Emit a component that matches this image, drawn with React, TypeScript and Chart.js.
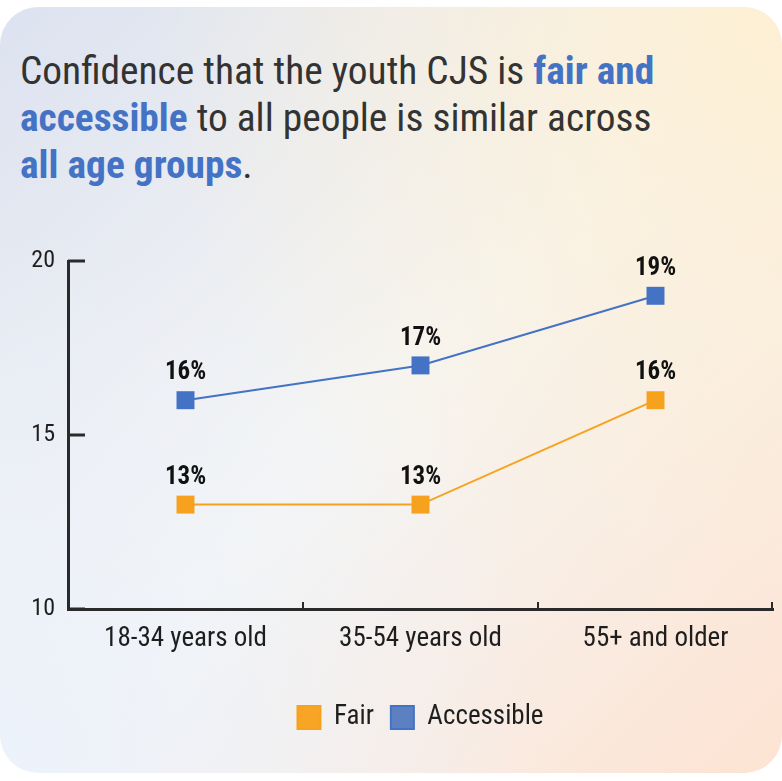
import React, { useEffect, useRef } from "react";
import { Chart, registerables } from "chart.js";
Chart.register(...registerables);

const categories = ["18-34 years old", "35-54 years old", "55+ and older"];
const fairValues = [13, 13, 16];
const accessibleValues = [16, 17, 19];
const seriesNames = ["Fair", "Accessible"];
const yMin = 10;
const yMax = 20;
const yStep = 5;

const FONT = "'Roboto Condensed', 'Liberation Sans Narrow', sans-serif";
const BLUE = "#4472C4";
const ORANGE = "#F7A21E";
const INK = "#1e1e1e";

const pctLabels = {
  id: "pctLabels",
  afterDatasetsDraw(chart: any) {
    const ctx = chart.ctx;
    ctx.save();
    ctx.font = `bold 25px ${FONT}`;
    ctx.fillStyle = "#111";
    ctx.textAlign = "center";
    ctx.textBaseline = "middle";
    chart.data.datasets.forEach((ds: any, i: number) => {
      const meta = chart.getDatasetMeta(i);
      meta.data.forEach((pt: any, j: number) => {
        ctx.fillText(ds.data[j] + "%", pt.x, pt.y - 27);
      });
    });
    ctx.restore();
  },
};

const innerTicks = {
  id: "innerTicks",
  afterDraw(chart: any) {
    const { ctx } = chart;
    const x = chart.scales.x;
    const y = chart.scales.y;
    ctx.save();
    ctx.strokeStyle = "#2a2a2a";
    ctx.lineWidth = 3;
    y.ticks.forEach((_t: any, i: number) => {
      const py = y.getPixelForTick(i);
      ctx.beginPath();
      ctx.moveTo(x.left, py);
      ctx.lineTo(x.left + 17, py);
      ctx.stroke();
    });
    ctx.lineWidth = 2;
    const n = x.ticks.length;
    const w = (x.right - x.left) / n;
    for (let i = 1; i <= n; i++) {
      const px = x.left + w * i - (i === n ? 1 : 0);
      ctx.beginPath();
      ctx.moveTo(px, y.bottom);
      ctx.lineTo(px, y.bottom - 7);
      ctx.stroke();
    }
    ctx.restore();
  },
};

function LineChart() {
  const ref = useRef<HTMLCanvasElement>(null);
  useEffect(() => {
    const chart = new Chart(ref.current!, {
      type: "line",
      data: {
        labels: categories,
        datasets: [
          {
            label: seriesNames[0],
            data: fairValues,
            borderColor: ORANGE,
            backgroundColor: "#F8A424",
            pointBackgroundColor: ORANGE,
            pointBorderColor: ORANGE,
            pointStyle: "rect",
            pointRadius: 12.7,
            pointHoverRadius: 12.7,
            borderWidth: 2,
            pointBorderWidth: 0,
            clip: false,
          } as any,
          {
            label: seriesNames[1],
            data: accessibleValues,
            borderColor: BLUE,
            backgroundColor: "#5C80C0",
            pointBackgroundColor: BLUE,
            pointBorderColor: BLUE,
            pointStyle: "rect",
            pointRadius: 12.7,
            pointHoverRadius: 12.7,
            borderWidth: 2,
            pointBorderWidth: 0,
            clip: false,
          } as any,
        ],
      },
      options: {
        animation: false,
        responsive: false,
        maintainAspectRatio: false,
        layout: { autoPadding: false, padding: { top: 31, right: 9, bottom: 32, left: 0 } },
        plugins: {
          tooltip: { enabled: false },
          legend: {
            position: "bottom",
            fullSize: false,
            labels: {
              boxWidth: 23,
              boxHeight: 23,
              padding: 17,
              color: INK,
              font: { family: FONT, size: 27 },
            },
          },
        },
        scales: {
          x: {
            offset: true,
            grid: { display: true, drawOnChartArea: false, drawTicks: false, color: "transparent", offset: true },
            border: { display: true, color: "#2a2a2a", width: 3 },
            ticks: { color: INK, font: { family: FONT, size: 27 }, padding: 14 },
            afterFit(scale: any) {
              scale.height = 78;
            },
          },
          y: {
            min: yMin,
            max: yMax,
            grid: { display: true, drawOnChartArea: false, drawTicks: false, color: "transparent" },
            border: { display: true, color: "#2a2a2a", width: 3 },
            ticks: { stepSize: yStep, color: INK, font: { family: FONT, size: 24 }, padding: 13 },
            afterFit(scale: any) {
              scale.width = 68;
            },
          },
        },
      } as any,
      plugins: [pctLabels, innerTicks],
    });
    return () => chart.destroy();
  }, []);
  return <canvas ref={ref} width={782} height={543} style={{ position: "absolute", left: 0, top: 230, width: 782, height: 543 }} />;
}

export default function App() {
  const hl: React.CSSProperties = { color: BLUE, fontWeight: 700 };
  return (
    <div style={{ position: "absolute", left: 0, top: 0, width: 782, height: 781, background: "#fff", overflow: "hidden" }}>
      <div
        style={{
          position: "absolute",
          left: 0,
          top: 7,
          width: 782,
          height: 766,
          borderRadius: 38,
          background:
            "radial-gradient(circle at 100% 0%, rgba(253,239,211,1) 0%, rgba(253,239,211,0) 58%), radial-gradient(circle at 0% 100%, rgba(236,242,251,1) 0%, rgba(236,242,251,0) 50%), linear-gradient(135deg, #dce2f0 0%, #f5f5f4 50%, #fde3d2 100%)",
        }}
      />
      <div
        style={{
          position: "absolute",
          left: 20,
          top: 47,
          fontFamily: FONT,
          fontSize: 39.4,
          lineHeight: "47px",
          color: "#333",
          whiteSpace: "nowrap",
        }}
      >
        Confidence that the youth CJS is <span style={hl}>fair and</span>
        <br />
        <span style={hl}>accessible</span> to all people is similar across
        <br />
        <span style={hl}>all age groups</span>.
      </div>
      <LineChart />
    </div>
  );
}
